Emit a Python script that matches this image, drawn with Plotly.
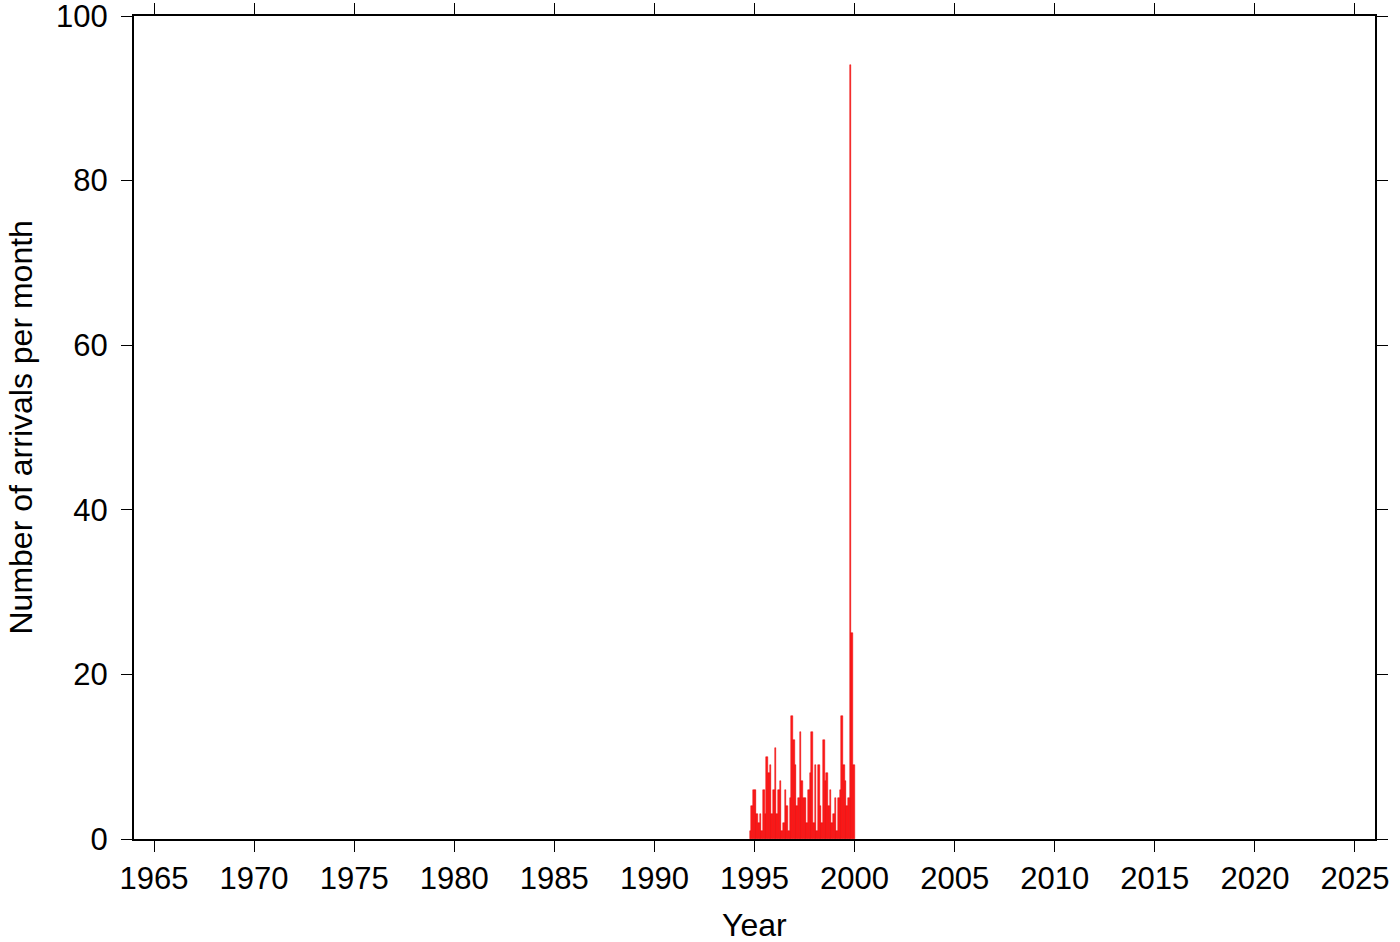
import plotly.graph_objects as go

start_year = 1994
start_month = 10  # October 1994
counts = [1, 4, 6, 6, 3, 2, 3, 1, 6, 3, 10, 8, 9, 3, 6, 11, 3, 6, 7, 1, 2, 6, 4, 1, 5,
          15, 12, 9, 4, 5, 13, 7, 5, 5, 2, 6, 8, 13, 2, 9, 1, 9, 4, 2, 12, 7, 8, 4, 6,
          2, 3, 5, 1, 5, 6, 15, 9, 7, 4, 5, 94, 25, 9]

x_ticks = list(range(1965, 2030, 5))
y_ticks = [0, 20, 40, 60, 80, 100]
x_title = "Year"
y_title = "Number of arrivals per month"

xs = [start_year + (start_month - 1 + i) / 12 + 1 / 24 for i in range(len(counts))]

fig = go.Figure()
fig.add_trace(go.Bar(
    x=xs, y=counts, width=1 / 12,
    marker=dict(color="#ff1a1a", line=dict(color="#e60000", width=0.5)),
))

font = "Liberation Sans, Arial, Helvetica, sans-serif"
fig.update_layout(
    width=1400, height=942,
    margin=dict(l=134, r=25, t=16, b=103, autoexpand=False),
    plot_bgcolor="white", paper_bgcolor="white",
    showlegend=False, bargap=0,
    font=dict(family=font, size=32, color="black"),
)
fig.update_xaxes(
    range=[1964, 2026], tickvals=x_ticks, ticktext=[str(t) for t in x_ticks],
    showgrid=False, zeroline=False, automargin=False, ticklabeloverflow="allow",
    showline=True, linecolor="black", linewidth=2, mirror="ticks",
    ticks="outside", ticklen=11, tickwidth=1, tickcolor="black",
    tickfont=dict(size=31),
)
fig.update_yaxes(
    range=[0, 100], tickvals=y_ticks,
    showgrid=False, zeroline=False, automargin=False, ticklabeloverflow="allow",
    showline=True, linecolor="black", linewidth=2, mirror="ticks",
    ticks="outside", ticklen=11, tickwidth=1, tickcolor="black",
    tickfont=dict(size=31), ticklabelstandoff=7,
)
fig.add_annotation(text=x_title, xref="paper", yref="paper", x=0.5, y=0,
                   yshift=-86, xanchor="center", yanchor="middle",
                   showarrow=False, font=dict(size=32))
fig.add_annotation(text=y_title, xref="paper", yref="paper", x=0, y=0.5,
                   xshift=-114, xanchor="center", yanchor="middle", textangle=-90,
                   showarrow=False, font=dict(size=32))
fig.write_html("out.html", config={"displayModeBar": False},
               post_script="document.body.style.margin='0';document.body.style.overflow='hidden';")
